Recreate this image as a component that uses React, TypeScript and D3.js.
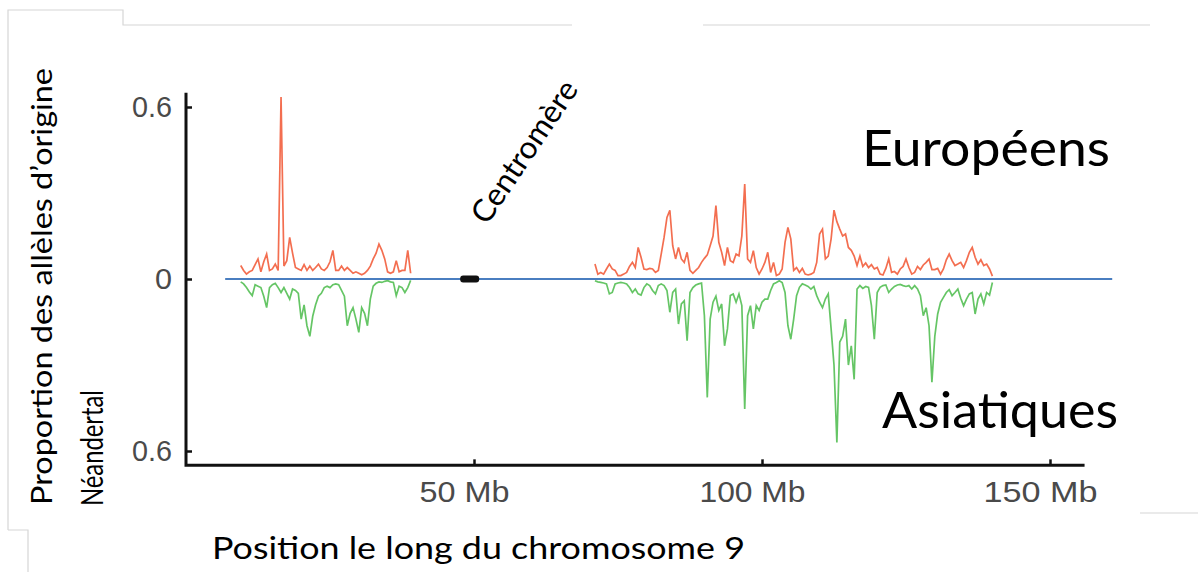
import { useEffect, useRef } from "react";
import * as d3 from "d3";

const W = 1198, H = 572;

// positions in Mb, one value every 0.5 Mb
const STEP = 0.5;
const LEFT_START = 9.5;
const RIGHT_START = 71.0;

const EUR_LEFT = [
  0.047, 0.03, 0.017, 0.025, 0.03, 0.05, 0.07, 0.025, 0.06, 0.087,
  0.03, 0.035, 0.052, 0.03, 0.635, 0.045, 0.064, 0.145, 0.09, 0.04,
  0.035, 0.03, 0.05, 0.03, 0.045, 0.03, 0.04, 0.052, 0.035, 0.03,
  0.04, 0.06, 0.1, 0.03, 0.03, 0.045, 0.03, 0.04, 0.03, 0.02,
  0.025, 0.02, 0.015, 0.02, 0.03, 0.045, 0.07, 0.09, 0.122, 0.1,
  0.07, 0.025, 0.02, 0.025, 0.064, 0.025, 0.03, 0.03, 0.1, 0.02,
];
const ASN_LEFT = [
  0.01, 0.017, 0.03, 0.045, 0.058, 0.02, 0.025, 0.03, 0.06, 0.1,
  0.03, 0.02, 0.015, 0.03, 0.047, 0.03, 0.05, 0.07, 0.035, 0.04,
  0.05, 0.14, 0.09, 0.163, 0.2, 0.13, 0.09, 0.06, 0.05, 0.03,
  0.025, 0.03, 0.02, 0.017, 0.02, 0.04, 0.06, 0.163, 0.12, 0.1,
  0.14, 0.186, 0.1, 0.12, 0.163, 0.07, 0.025, 0.015, 0.01, 0.012,
  0.008, 0.006, 0.01, 0.012, 0.058, 0.025, 0.03, 0.047, 0.03, 0.005,
];
const EUR_RIGHT = [
  0.052, 0.017, 0.023, 0.017, 0.035, 0.052, 0.035, 0.03, 0.012, 0.012,
  0.017, 0.023, 0.044, 0.058, 0.04, 0.11, 0.076, 0.035, 0.033, 0.037,
  0.035, 0.023, 0.03, 0.087, 0.145, 0.215, 0.24, 0.116, 0.07, 0.11,
  0.07, 0.058, 0.093, 0.03, 0.02, 0.03, 0.04, 0.058, 0.072, 0.084,
  0.116, 0.15, 0.256, 0.128, 0.093, 0.047, 0.11, 0.064, 0.058, 0.087,
  0.081, 0.15, 0.331, 0.07, 0.058, 0.099, 0.04, 0.017, 0.035, 0.058,
  0.093, 0.023, 0.058, 0.012, 0.017, 0.035, 0.128, 0.18, 0.14, 0.03,
  0.04, 0.023, 0.037, 0.017, 0.014, 0.017, 0.023, 0.058, 0.157, 0.174,
  0.07, 0.08, 0.14, 0.24, 0.2, 0.174, 0.15, 0.157, 0.11, 0.1,
  0.08, 0.047, 0.08, 0.044, 0.056, 0.04, 0.05, 0.035, 0.04, 0.017,
  0.014, 0.037, 0.07, 0.023, 0.026, 0.017, 0.035, 0.044, 0.07, 0.04,
  0.017, 0.023, 0.044, 0.033, 0.049, 0.058, 0.07, 0.033, 0.033, 0.037,
  0.017, 0.035, 0.067, 0.087, 0.064, 0.047, 0.052, 0.058, 0.04, 0.064,
  0.093, 0.11, 0.076, 0.052, 0.067, 0.047, 0.052, 0.035, 0.01,
];
const ASN_RIGHT = [
  0.006, 0.01, 0.012, 0.014, 0.017, 0.052, 0.047, 0.017, 0.014, 0.012,
  0.014, 0.017, 0.03, 0.047, 0.035, 0.052, 0.056, 0.03, 0.017, 0.023,
  0.04, 0.052, 0.023, 0.017, 0.023, 0.04, 0.116, 0.047, 0.035, 0.157,
  0.087, 0.076, 0.215, 0.047, 0.03, 0.021, 0.017, 0.014, 0.128, 0.413,
  0.14, 0.081, 0.06, 0.11, 0.087, 0.233, 0.174, 0.058, 0.052, 0.081,
  0.052, 0.093, 0.453, 0.128, 0.093, 0.174, 0.093, 0.11, 0.081, 0.07,
  0.07, 0.04, 0.017, 0.012, 0.006, 0.012, 0.047, 0.163, 0.21, 0.14,
  0.058, 0.029, 0.017, 0.021, 0.026, 0.035, 0.026, 0.058, 0.081, 0.1,
  0.07, 0.052, 0.174, 0.3, 0.57, 0.22, 0.2, 0.14, 0.3, 0.233,
  0.35, 0.035, 0.023, 0.033, 0.026, 0.029, 0.093, 0.21, 0.047, 0.029,
  0.023, 0.021, 0.047, 0.035, 0.026, 0.021, 0.019, 0.023, 0.026, 0.023,
  0.035, 0.023, 0.035, 0.058, 0.128, 0.1, 0.163, 0.36, 0.2, 0.122,
  0.081, 0.064, 0.047, 0.037, 0.058, 0.047, 0.035, 0.067, 0.093, 0.07,
  0.052, 0.047, 0.122, 0.07, 0.052, 0.087, 0.047, 0.056, 0.012,
];

const X_TICKS = [50, 100, 150];
const X_TICK_LABELS = ["50 Mb", "100 Mb", "150 Mb"];
const X_TICK_WIDTHS = [90, 106, 114];
const Y_TICKS = [0.6, 0, -0.6];
const Y_TICK_LABELS = ["0.6", "0", "0.6"];
const Y_TICK_WIDTHS = [40, 17, 40];
const CENTROMERE = [47.6, 50.9]; // Mb
const ZERO_LINE = [6.8, 160.8]; // Mb
const X_AXIS_END = 156;
const Y_AXIS_EXT = 0.65;

const RED = "#f04a24";
const GREEN = "#3fb63f";
const FONT = "Lato, 'Open Sans', sans-serif";
const TICK_FONT = "'Liberation Sans', Arial, sans-serif";

export default function App() {
  const ref = useRef<SVGSVGElement>(null);

  useEffect(() => {
    const svg = d3.select(ref.current);
    svg.selectAll("*").remove();

    const x = d3.scaleLinear().domain([0, 150]).range([186, 1050]);
    const y = d3.scaleLinear().domain([-0.6, 0.6]).range([451, 107]);

    // faint leftovers of the pasted figure
    svg.append("path")
      .attr("d", "M8,530 V10 H123 V25 H572 M703,25 H1150 M8,530 H28 V572 M1140,513 H1198")
      .attr("stroke", "#d6d6d6").attr("fill", "none").attr("stroke-width", 1.2);

    // zero line
    svg.append("line")
      .attr("x1", x(ZERO_LINE[0])).attr("x2", x(ZERO_LINE[1]))
      .attr("y1", y(0)).attr("y2", y(0))
      .attr("stroke", "#4a7ec0").attr("stroke-width", 1.8);

    const series = (vals: number[], start: number, sign: number) =>
      vals.map((v, i) => [start + i * STEP, sign * v] as [number, number]);

    const line = d3.line<[number, number]>().x(d => x(d[0])).y(d => y(d[1]));

    const draw = (data: [number, number][], color: string) =>
      svg.append("path")
        .attr("d", line(data))
        .attr("fill", "none")
        .attr("stroke", color)
        .attr("stroke-width", 1.7)
        .attr("stroke-opacity", 0.8)
        .attr("stroke-linejoin", "miter");

    draw(series(ASN_LEFT, LEFT_START, -1), GREEN);
    draw(series(ASN_RIGHT, RIGHT_START, -1), GREEN);
    draw(series(EUR_LEFT, LEFT_START, 1), RED);
    draw(series(EUR_RIGHT, RIGHT_START, 1), RED);

    // centromere
    svg.append("rect")
      .attr("x", x(CENTROMERE[0])).attr("width", x(CENTROMERE[1]) - x(CENTROMERE[0]))
      .attr("y", y(0) - 3.5).attr("height", 7).attr("rx", 3)
      .attr("fill", "#111");

    // axes
    const yAxis = svg.append("g")
      .attr("transform", `translate(${x(0)},0)`)
      .call(d3.axisLeft(y).tickValues(Y_TICKS).tickSize(-6).tickSizeOuter(0).tickPadding(14)
        .tickFormat((_d, i) => Y_TICK_LABELS[i]));
    yAxis.select(".domain").remove();
    yAxis.selectAll("line").attr("stroke", "#111").attr("stroke-width", 2.5);
    yAxis.selectAll("text").attr("font-family", TICK_FONT)
      .attr("font-size", 29).attr("fill", "#4a4a4a")
      .attr("textLength", (_d, i) => Y_TICK_WIDTHS[i]).attr("lengthAdjust", "spacingAndGlyphs");

    const xAxis = svg.append("g")
      .attr("transform", `translate(0,${y(-Y_AXIS_EXT)})`)
      .call(d3.axisBottom(x).tickValues(X_TICKS).tickSize(-6).tickSizeOuter(0).tickPadding(16)
        .tickFormat((_d, i) => X_TICK_LABELS[i]));
    xAxis.select(".domain").remove();
    xAxis.selectAll("line").attr("stroke", "#111").attr("stroke-width", 2.5);
    xAxis.selectAll("text").attr("font-family", TICK_FONT)
      .attr("font-size", 29).attr("fill", "#4a4a4a").attr("dx", -10)
      .attr("textLength", (_d, i) => X_TICK_WIDTHS[i]).attr("lengthAdjust", "spacingAndGlyphs");

    svg.append("path")
      .attr("d", `M${x(0)},${y(Y_AXIS_EXT)} V${y(-Y_AXIS_EXT)} H${x(X_AXIS_END)}`)
      .attr("fill", "none").attr("stroke", "#111").attr("stroke-width", 3);

    // labels
    const txt = (s: string, tx: number, ty: number, size: number, len: number, rot = 0) =>
      svg.append("text")
        .attr("transform", `translate(${tx},${ty}) rotate(${rot})`)
        .attr("font-family", FONT).attr("font-size", size).attr("fill", "#000")
        .attr("textLength", len).attr("lengthAdjust", "spacingAndGlyphs")
        .text(s);

    txt("Européens", 862, 166, 50, 248);
    txt("Asiatiques", 882, 428, 50, 236);
    txt("Centromère", 487, 226, 31, 165, -56);
    txt("Position le long du chromosome 9", 212, 559, 30, 533);
    txt("Proportion des allèles d’origine", 52, 505, 29, 437, -90);
    txt("Néandertal", 103, 506, 30, 116, -90);
  }, []);

  return (
    <svg ref={ref} width={W} height={H}
      style={{ position: "absolute", left: 0, top: 0, background: "#fff" }} />
  );
}
